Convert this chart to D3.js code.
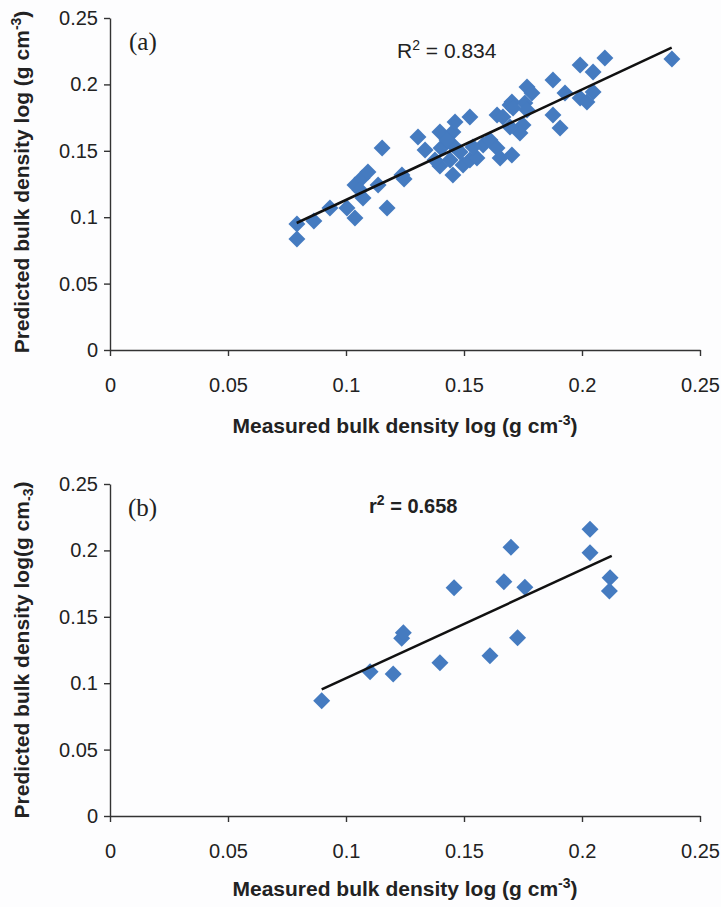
<!DOCTYPE html>
<meta charset="utf-8">
<style>
    body { margin: 0; background: #fdfdfe; }
    svg { display: block; font-family: "Liberation Sans", Arial, sans-serif; }
</style>
<svg width="721" height="907"></svg>

<script src="https://d3js.org/d3.v7.min.js"></script>
<script>
    // panel (a): measured vs predicted
    var measuredA = [0.0792, 0.0792, 0.0864, 0.0932, 0.1004, 0.1038, 0.1038, 0.1068, 0.1093, 0.1072,
        0.1059, 0.1136, 0.1153, 0.1174, 0.1237, 0.1246, 0.1305, 0.1335, 0.1398, 0.1403,
        0.1453, 0.1462, 0.1453, 0.1525, 0.1398, 0.1453, 0.1496, 0.1441, 0.1525, 0.1555,
        0.1581, 0.1610, 0.1640, 0.1653, 0.1703, 0.1640, 0.1695, 0.1758, 0.1750, 0.1737,
        0.1695, 0.1665, 0.2097, 0.1992, 0.2047, 0.1877, 0.1767, 0.1788, 0.1703, 0.1708,
        0.1767, 0.1928, 0.1992, 0.2047, 0.2021, 0.1877, 0.1907, 0.2381, 0.1377, 0.1483,
        0.1538, 0.1428];
    var predictedA = [0.0949, 0.0836, 0.0971, 0.1069, 0.1069, 0.0994, 0.1242, 0.1295, 0.1340, 0.1145,
        0.1205, 0.1242, 0.1521, 0.1069, 0.1318, 0.1288, 0.1604, 0.1506, 0.1642, 0.1521,
        0.1642, 0.1717, 0.1544, 0.1755, 0.1386, 0.1318, 0.1393, 0.1431, 0.1431, 0.1446,
        0.1544, 0.1581, 0.1521, 0.1446, 0.1468, 0.1770, 0.1845, 0.1860, 0.1694, 0.1634,
        0.1679, 0.1755, 0.2199, 0.2146, 0.2093, 0.2033, 0.1980, 0.1935, 0.1867, 0.1822,
        0.1807, 0.1935, 0.1898, 0.1943, 0.1867, 0.1770, 0.1672, 0.2191, 0.1431, 0.1491,
        0.1529, 0.1581];
    var fitA = {from: 0.0791, to: 0.238, slope: 0.831, intercept: 0.0299};

    // panel (b)
    var measuredB = [0.0897, 0.1102, 0.1200, 0.1236, 0.1243, 0.1398, 0.1458, 0.1610,
        0.1669, 0.1699, 0.1727, 0.1758, 0.2034, 0.2034, 0.2119, 0.2116];
    var predictedB = [0.0868, 0.1087, 0.1069, 0.1338, 0.1380, 0.1154, 0.1719, 0.1207,
        0.1764, 0.2023, 0.1343, 0.1722, 0.2159, 0.1983, 0.1794, 0.1694];
    var fitB = {from: 0.0897, to: 0.2126, slope: 0.817, intercept: 0.0221};

    var tickValues = [0, 0.05, 0.1, 0.15, 0.2, 0.25];

    var svg = d3.select("svg"),
        x = d3.scaleLinear().domain([0, 0.25]).range([110, 700]),
        fmt = d3.format("~g"),
        diamond = d3.symbol(d3.symbolSquare, 144);

    function panel(top, bottom, measured, predicted, fit) {
        var y = d3.scaleLinear().domain([0, 0.25]).range([bottom, top]),
            g = svg.append("g");

        var xAxis = g.append("g")
            .attr("transform", "translate(0," + bottom + ")")
            .call(d3.axisBottom(x).tickValues(tickValues).tickFormat(fmt)
                .tickSize(6).tickSizeOuter(0).tickPadding(22));
        var yAxis = g.append("g")
            .attr("transform", "translate(110,0)")
            .call(d3.axisLeft(y).tickValues(tickValues).tickFormat(fmt)
                .tickSize(6).tickSizeOuter(0).tickPadding(6));

        [xAxis, yAxis].forEach(function (a) {
            a.selectAll("path, line").attr("stroke", "#333").attr("stroke-width", 1.4);
            a.selectAll("text").attr("font-size", 20).attr("fill", "#222")
                .attr("font-family", "'Liberation Sans', Arial, sans-serif");
        });

        g.selectAll("path.pt")
            .data(measured)
            .enter()
            .append("path")
            .attr("class", "pt")
            .attr("d", diamond)
            .attr("fill", "#457bc0")
            .attr("transform", function (d, i) {
                return "translate(" + x(d) + "," + y(predicted[i]) + ") rotate(45)";
            });

        g.append("line")
            .attr("x1", x(fit.from))
            .attr("y1", y(fit.intercept + fit.slope * fit.from))
            .attr("x2", x(fit.to))
            .attr("y2", y(fit.intercept + fit.slope * fit.to))
            .attr("stroke", "#111")
            .attr("stroke-width", 2.5);

        return g;
    }

    var a = panel(18, 350, measuredA, predictedA, fitA),
        b = panel(484, 816, measuredB, predictedB, fitB);

    function title(g, cx, cy, rotate, main, sup, sub) {
        var t = g.append("text")
            .attr("transform", "translate(" + cx + "," + cy + ")" + (rotate ? " rotate(-90)" : ""))
            .attr("text-anchor", "middle")
            .attr("font-size", 21)
            .attr("font-weight", "bold")
            .attr("fill", "#222");
        t.append("tspan").text(main);
        t.append("tspan").attr("dy", sub ? 4 : -8).attr("font-size", 14).text(sup);
        t.append("tspan").attr("dy", sub ? -4 : 8).text(")");
    }

    title(a, 405, 433, false, "Measured bulk density log (g cm", "-3");
    title(a, 29, 182, true, "Predicted bulk density log (g cm", "-3");
    title(b, 405, 896, false, "Measured bulk density log (g cm", "-3");
    title(b, 29, 650, true, "Predicted bulk density log(g cm", "-3", true);

    a.append("text").attr("x", 129).attr("y", 50)
        .attr("font-family", "'Liberation Serif', 'Times New Roman', serif")
        .attr("font-size", 25).attr("fill", "#222").text("(a)");
    b.append("text").attr("x", 128).attr("y", 516)
        .attr("font-family", "'Liberation Serif', 'Times New Roman', serif")
        .attr("font-size", 25).attr("fill", "#222").text("(b)");

    var r2a = a.append("text").attr("x", 397).attr("y", 58)
        .attr("font-size", 21).attr("fill", "#222");
    r2a.append("tspan").text("R");
    r2a.append("tspan").attr("dy", -8).attr("font-size", 14).text("2");
    r2a.append("tspan").attr("dy", 8).text(" = 0.834");

    var r2b = b.append("text").attr("x", 369).attr("y", 513)
        .attr("font-size", 20).attr("font-weight", "bold").attr("fill", "#222");
    r2b.append("tspan").text("r");
    r2b.append("tspan").attr("dy", -8).attr("font-size", 14).text("2");
    r2b.append("tspan").attr("dy", 8).text(" = 0.658");
</script>
